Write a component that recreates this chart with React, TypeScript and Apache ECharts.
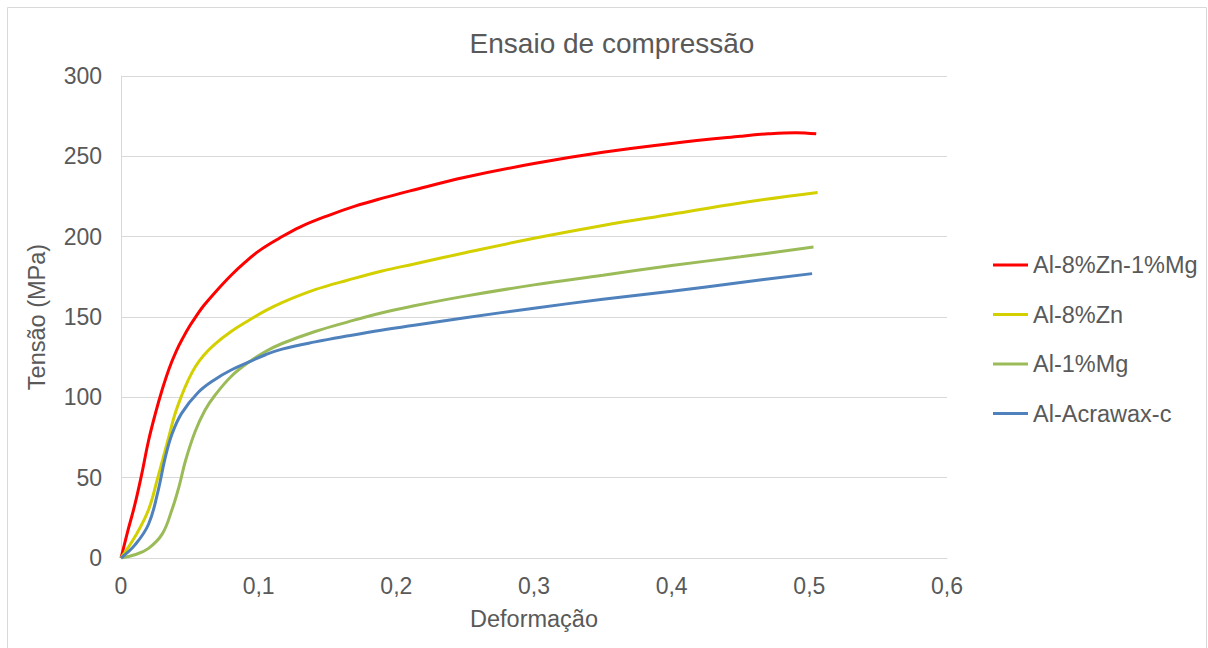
import React, { useEffect, useRef } from "react";
import * as echarts from "echarts";

const seriesNames = ["Al-8%Zn-1%Mg", "Al-8%Zn", "Al-1%Mg", "Al-Acrawax-c"];
const seriesColors = ["#FF0000", "#D4D000", "#9BBB59", "#4F81BD"];

const redX = [0, 0.005, 0.01, 0.015, 0.02, 0.025, 0.03, 0.035, 0.04, 0.045, 0.05, 0.055, 0.06, 0.068, 0.08, 0.09, 0.1, 0.115, 0.13, 0.15, 0.17, 0.19, 0.21, 0.25, 0.3, 0.35, 0.4, 0.45, 0.47, 0.49, 0.505];
const redY = [0, 17, 33, 52, 73, 90, 105, 118, 128.5, 137, 144.5, 151, 157, 165, 176, 184, 191, 199, 206, 213, 219, 224, 228.5, 237, 245.5, 252.5, 258, 262.5, 264, 264.7, 264];

const yellowX = [0, 0.01, 0.02, 0.027, 0.034, 0.039, 0.044, 0.049, 0.054, 0.06, 0.068, 0.08, 0.093, 0.105, 0.117, 0.141, 0.165, 0.189, 0.213, 0.25, 0.3, 0.35, 0.4, 0.45, 0.506];
const yellowY = [0, 13, 30, 51, 73, 89, 101, 111, 119, 126, 133, 141, 148, 154, 159, 167, 173, 178.5, 183, 190, 199, 207, 214, 221, 227.5];

const greenX = [0, 0.01, 0.02, 0.03, 0.037, 0.042, 0.047, 0.054, 0.061, 0.068, 0.08, 0.093, 0.105, 0.117, 0.141, 0.165, 0.189, 0.213, 0.25, 0.3, 0.35, 0.4, 0.45, 0.503];
const greenY = [0, 2, 6, 15, 30, 44, 61, 79, 92, 101, 113, 122, 128.5, 133.5, 141, 147, 152.5, 157, 163, 170, 176, 182, 187.5, 193.5];

const blueX = [0, 0.01, 0.02, 0.027, 0.032, 0.037, 0.044, 0.056, 0.068, 0.08, 0.093, 0.105, 0.117, 0.141, 0.165, 0.189, 0.213, 0.25, 0.3, 0.35, 0.4, 0.45, 0.502];
const blueY = [0, 8, 21, 42, 62, 77, 90, 103, 111, 117, 122, 126.5, 130, 134.5, 138.3, 141.8, 144.8, 149.5, 155.5, 161, 166, 171.5, 177];

const allX = [redX, yellowX, greenX, blueX];
const allY = [redY, yellowY, greenY, blueY];

const FONT = "'Liberation Sans', Arial, sans-serif";
const TXT = "#595959";

export default function App() {
  const ref = useRef<HTMLDivElement>(null);
  useEffect(() => {
    if (!ref.current) return;
    const chart = echarts.init(ref.current, undefined, { renderer: "svg" });
    const fmt = (v: number) => String(Math.round(v * 10) / 10).replace(".", ",");
    chart.setOption({
      animation: false,
      backgroundColor: "#ffffff",
      textStyle: { fontFamily: FONT },
      grid: { left: 121, right: 261, top: 76, bottom: 90, containLabel: false },
      title: {
        text: "Ensaio de compressão",
        left: 607,
        top: 24,
        textAlign: "center",
        textStyle: { fontFamily: FONT, fontSize: 28, fontWeight: "normal", color: TXT },
      },
      legend: {
        orient: "vertical",
        left: 988,
        top: 248,
        icon: "rect",
        itemWidth: 35,
        itemHeight: 3,
        itemGap: 25.5,
        data: seriesNames,
        textStyle: { fontFamily: FONT, fontSize: 23.5, color: TXT, lineHeight: 24 },
      },
      xAxis: {
        type: "value",
        min: 0,
        max: 0.6,
        interval: 0.1,
        axisLine: { show: true, lineStyle: { color: "#d9d9d9", width: 1 } },
        axisTick: { show: false },
        splitLine: { show: false },
        axisLabel: { formatter: fmt, color: TXT, fontSize: 23, fontFamily: FONT, margin: 16 },
      },
      yAxis: {
        type: "value",
        min: 0,
        max: 300,
        interval: 50,
        axisLine: { show: true, lineStyle: { color: "#d9d9d9", width: 1 } },
        axisTick: { show: false },
        splitLine: { show: true, lineStyle: { color: "#d9d9d9", width: 1 } },
        axisLabel: { color: TXT, fontSize: 23, fontFamily: FONT, margin: 19 },
      },
      graphic: [
        {
          type: "rect",
          shape: { x: 7.5, y: 7.5, width: 1199, height: 700 },
          style: { fill: "none", stroke: "#d9d9d9", lineWidth: 1 },
          silent: true,
        },
        {
          type: "text",
          x: 37,
          y: 317,
          rotation: Math.PI / 2,
          style: { text: "Tensão (MPa)", fill: TXT, font: `23.5px ${FONT}`, align: "center", verticalAlign: "middle" },
        },
        {
          type: "text",
          x: 534,
          y: 619,
          style: { text: "Deformação", fill: TXT, font: `23.5px ${FONT}`, align: "center", verticalAlign: "middle" },
        },
      ],
      series: seriesNames.map((name, i) => ({
        name,
        type: "line",
        smooth: 0.4,
        symbol: "none",
        lineStyle: { color: seriesColors[i], width: 3 },
        itemStyle: { color: seriesColors[i] },
        data: allX[i].map((x, j) => [x, allY[i][j]]),
      })),
    });
    return () => chart.dispose();
  }, []);
  return (
    <div
      ref={ref}
      style={{ position: "fixed", left: 0, top: 0, width: 1208, height: 648 }}
    />
  );
}
